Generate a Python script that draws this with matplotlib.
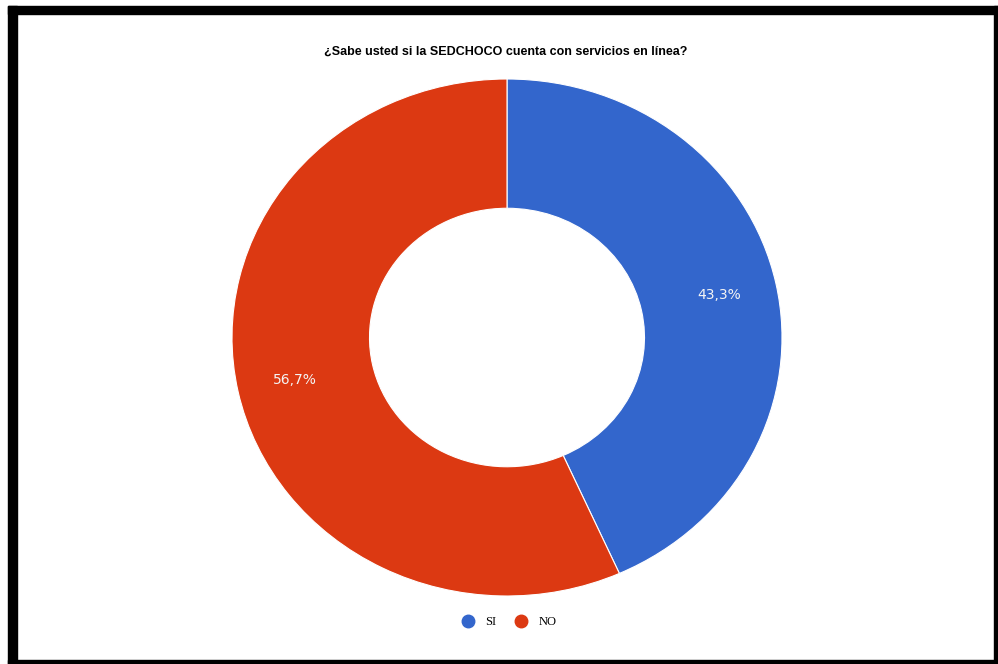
import matplotlib
matplotlib.use("Agg")
import matplotlib.pyplot as plt
from matplotlib.patches import Rectangle
from matplotlib.lines import Line2D

W, H = 998, 664

categories = ["SI", "NO"]
values = [43.3, 56.7]
colors = ["#3366cc", "#dc3912"]
title = "¿Sabe usted si la SEDCHOCO cuenta con servicios en línea?"

fig = plt.figure(figsize=(W / 100, H / 100), dpi=100)
fig.patch.set_facecolor("white")

def fx(px):
    return px / W

def fy(py):
    return 1 - py / H

# donut area (pixel box of the outer ring)
left, right, top, bottom = 232, 782, 79, 596
ax = fig.add_axes([fx(left), fy(bottom), (right - left) / W, (bottom - top) / H])
wedges, texts, autotexts = ax.pie(
    values,
    colors=colors,
    startangle=90,
    counterclock=False,
    radius=1.0,
    wedgeprops=dict(width=0.5, edgecolor="white", linewidth=0.8),
    autopct=lambda p: f"{p:.1f}%".replace(".", ","),
    pctdistance=0.79,
    textprops=dict(color="#f4f4f4", fontsize=10, family="DejaVu Sans"),
)
ax.set_aspect("auto")
ax.set_xlim(-1, 1)
ax.set_ylim(-1, 1)
ax.axis("off")

fig.text(fx(506), fy(52), title, ha="center", va="center",
         fontsize=9, fontweight="bold", family="Liberation Sans")

# legend
handles = [Line2D([0], [0], marker="o", linestyle="none", markersize=9,
                  markerfacecolor=c, markeredgecolor=c) for c in colors]
fig.legend(handles, categories, loc="center", bbox_to_anchor=(fx(506), fy(622)),
           ncol=2, frameon=False, handletextpad=0.35, columnspacing=1.0,
           prop=dict(family="Liberation Serif", size=9))

# black frame
k = "black"
fig.patches.append(Rectangle((fx(8), 0), 9 / W, fy(6), transform=fig.transFigure, color=k))
fig.patches.append(Rectangle((fx(8), fy(14)), (W - 8) / W, 8 / H, transform=fig.transFigure, color=k))
fig.patches.append(Rectangle((fx(994), 0), 4 / W, fy(6), transform=fig.transFigure, color=k))
fig.patches.append(Rectangle((fx(8), 0), (W - 8) / W, 4 / H, transform=fig.transFigure, color=k))

fig.savefig("out.png", dpi=100)
